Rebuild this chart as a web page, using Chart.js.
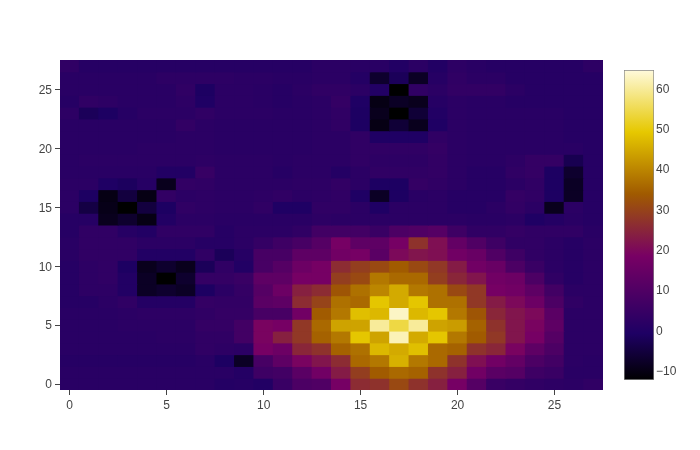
<!DOCTYPE html>
<html>
<head>
<meta charset="utf-8">
<title>Heatmap</title>
<script src="https://cdn.jsdelivr.net/npm/chart.js@4"></script>
<style>
    body { margin: 0; background: #fff; }
    #wrap { position: relative; width: 700px; height: 450px; overflow: hidden; }
    canvas { position: absolute; }
</style>
</head>
<body>
<div id="wrap">
    <canvas id="heat" width="700" height="450" style="left:0;top:0"></canvas>
    <canvas id="bar" width="80" height="330" style="left:620px;top:60px"></canvas>
</div>
<script>
// z values, one list per row, row 0 is the bottom one
const row0  = [1.5,1.5,1.5,1.5,1.5,1.5,1.5,1.5,0.5,1,0,5,9,10,18,26,27,31,27,24,18,11,5,4,3,2.5,2,3]
const row1  = [1.5,1.5,1.5,1.5,1.5,1.5,1.5,1.5,1.5,0.5,6,7,12,17,23,29,34,36,35,27,24,17,12,11,6,5,1.5,1.5]
const row2  = [1,1,1,1,1,1,1,1.5,-1,-8,8,13,19,22,26,36,38,46,38,36,27,21,17,14,9,7,2,1.5]
const row3  = [1.5,1.5,1.5,1.5,1.5,1.5,1.5,3,2.5,2,18,16,25,27,35,37,47,45,48,36,35,27,25,19,13,9,2,2]
const row4  = [1.5,1.5,1.5,1.5,1.5,2,2,3,3,7,19,24,28,35,38,49,44,62,45,49,38,34,28,22,18,11,2,2]
const row5  = [1.5,1.5,1.5,2,2,2,2,4,4,7,19,18,28,36,44,44,60,54,60,44,43,35,27,22,19,13,2,2]
const row6  = [1.5,1.5,1.5,2,2.5,2.5,2.5,3,4,4,8,8,17,34,38,48,47,63,47,49,38,33,25,22,20,12,2,2]
const row7  = [1,1,2,3,0.5,0.5,0.5,4,3.5,3.5,12,13,26,30,37,36,49,45,49,37,37,28,23,20,16,9,3,2]
const row8  = [1,2.5,2.5,0,-8,-7,-8,-1,2,4,11,16,24,26,33,37,40,45,38,37,31,28,18,17,13,7,2,2]
const row9  = [1,2.5,3,0,-8,-13,-7,4,4,5,13,13,18,18,29,31,38,36,36,29,25,22,17,16,9,3,1,2]
const row10 = [1,2.5,3,-1,-9,-7,-9,-2,3,0,8,11,16,18,26,29,31,34,31,28,23,17,15,9,5,2,1,2]
const row11 = [1.5,3,3,3,0,0,0,3,-2,1,8,8,13,13,17,18,12,20,22,21,17,15,10,6,3,2,1,2]
const row12 = [1.5,3,3,3,2,2,2,1,1,2,4,6,8,11,18,13,13,18,27,21,14,10,6,3,3,2,1,2]
const row13 = [1,3,3,1,0,3,3,3,1,2,2,2,3,7,7,7,5,9,10,11,6,3,3,4,3,3,3,1.5]
const row14 = [1,1,-9,-7,-10,0,2,2,1.5,1.5,1.5,1.5,1.5,2.5,2,2,2,2,2,2,2,1.5,1.5,2,-0.5,0.5,1.5,1]
const row15 = [2,-4.5,-9.5,-13,-5,-1,3,2.5,2,2,3,-0.5,-0.5,3,3,2,-0.5,2,2,2,1,1,2,3.5,2,-9,2,1]
const row16 = [2,-1,-10,-5,-10,3.5,2,2.5,2,2,2.5,3,2,2.5,3,-0.5,-8,-1,1.5,2,1,1,1,4,3,-1,-8,1]
const row17 = [2,2,-0.5,-1.5,1,-9,3.5,3,2,2,2,2,2.5,2.5,3.5,2,-1,-1,4,3,2,1,1,2,3,-1,-8,1]
const row18 = [1.5,1.5,1.5,1.5,1.5,0,0,4.5,2,2,2,1,2,2,0.5,2,3,3,3,3.5,2,1,1,3,4,-1,-7,1]
const row19 = [1.5,2,2,2,2,2,2,2.5,2,2,2,1.5,2,2,2,3,2.5,2.5,2.5,3.5,2,1.5,1.5,2.5,4,4,-3,1]
const row20 = [1.5,1.5,1.5,1.5,2,2,2,2,1.5,1.5,1.5,1.5,1.5,2,2,3,3,3,3,4,2,1.5,1.5,1.5,1.5,1.5,1.5,1]
const row21 = [1.5,1.5,1.5,1.5,1.5,1.5,2,2,1.5,1.5,1.5,1.5,1.5,2,2,3,-0.5,-0.5,-0.5,3,2,1.5,1.5,1.5,1.5,1.5,1,1]
const row22 = [1.5,1.5,1.5,1.5,1.5,1.5,3.5,2,1.5,1.5,1.5,1.5,1.5,2,3,-1,-10,-6,-9,-0.5,2,1.5,1.5,1.5,1.5,1.5,1,1]
const row23 = [2.5,-2,-1,1,2,2,2,3,2,2,2,1.5,1.5,2,3,-1,-9,-13,-6,0,2,1.5,1.5,1.5,1.5,1.5,1,1]
const row24 = [1,3,2.5,1.5,1.5,1.5,2.5,-0.5,2,2,1.5,1,1.5,2,4,-0.5,-10,-8,-9,1,2,1.5,1.5,1,1,1,1,1]
const row25 = [1.5,1.5,1.5,1.5,1.5,1.5,3,-1,2,2,1.5,1,2,3,3,2,0,-13,3,2,3.5,3.5,3.5,2,1,1,1,1]
const row26 = [1.5,1.5,1.5,1.5,1.5,2.5,2.5,2.5,2.5,2,2,1.5,1.5,2,2,0.5,-7,-2,-8,1,3,2,2,1,1,1,1,1]
const row27 = [3,1,1,1,1,1,1,1,1,1,1,1,1,2,2,1.5,1.5,0,2,0,2.5,1.5,1,1,1,1,1,2.5]
const rows = [row0,row1,row2,row3,row4,row5,row6,row7,row8,row9,row10,row11,row12,row13,
              row14,row15,row16,row17,row18,row19,row20,row21,row22,row23,row24,row25,row26,row27]

// color range and plotly's Electric scale
const zMin = -12.3
const zMax = 64.6
const stopPos = [0, 0.15, 0.4, 0.6, 0.8, 1]
const stopRGB = [[0,0,0],[30,0,100],[120,0,100],[160,90,0],[230,200,0],[255,250,220]]

function colorOf(z) {
    let t = Math.min(1, Math.max(0, (z - zMin) / (zMax - zMin)))
    let i = 0
    while (i < stopPos.length - 2 && t > stopPos[i+1]) i++
    let f = (t - stopPos[i]) / (stopPos[i+1] - stopPos[i])
    let c = stopRGB[i].map((v, k) => Math.round(v + (stopRGB[i+1][k] - v) * f))
    return `rgb(${c[0]},${c[1]},${c[2]})`
}

const font = { family: '"Liberation Sans", Arial, sans-serif', size: 12 }

// each cell is a floating bar, one unit wide and one unit high
let cells = []
let cellColors = []
rows.forEach((row, y) => row.forEach((z, x) => {
    cells.push({ x: x, y: [y - 0.5, y + 0.5] })
    cellColors.push(colorOf(z))
}))

const axisCommon = {
    type: 'linear',
    min: -0.5,
    max: 27.5,
    offset: false,
    grid: { offset: false, drawOnChartArea: false, tickLength: 5, tickColor: '#444', tickWidth: 1 },
    border: { display: false },
    ticks: { stepSize: 5, includeBounds: false, color: '#444', font: font, padding: 3, maxRotation: 0 }
}

new Chart(document.getElementById('heat'), {
    type: 'bar',
    data: {
        datasets: [{
            data: cells,
            backgroundColor: cellColors,
            borderWidth: 0,
            barPercentage: 1,
            categoryPercentage: 1,
            inflateAmount: 0.5
        }]
    },
    options: {
        responsive: false,
        animation: false,
        events: [],
        layout: { padding: { top: 60, right: 97, left: 0, bottom: 0 } },
        plugins: { legend: { display: false }, tooltip: { enabled: false } },
        scales: {
            x: { ...axisCommon, afterFit: (s) => { s.height = 60 } },
            y: {
                ...axisCommon,
                ticks: { ...axisCommon.ticks, labelOffset: 1 },
                afterFit: (s) => { s.width = 60 }
            }
        }
    }
})

// color bar: one floating bar filled with the same scale
new Chart(document.getElementById('bar'), {
    type: 'bar',
    data: {
        labels: [''],
        datasets: [{
            data: [[zMin, zMax]],
            backgroundColor: (ctx) => {
                let area = ctx.chart.chartArea
                if (!area) return '#000'
                let g = ctx.chart.ctx.createLinearGradient(0, area.bottom, 0, area.top)
                stopPos.forEach((p, i) => g.addColorStop(p, `rgb(${stopRGB[i].join(',')})`))
                return g
            },
            borderColor: '#888',
            borderWidth: 1,
            borderSkipped: false,
            barPercentage: 1,
            categoryPercentage: 1
        }]
    },
    options: {
        responsive: false,
        animation: false,
        events: [],
        layout: { padding: { top: 10, bottom: 10, left: 4, right: 0 } },
        plugins: { legend: { display: false }, tooltip: { enabled: false } },
        scales: {
            x: { display: false },
            y: {
                position: 'right',
                min: zMin,
                max: zMax,
                grid: { display: false, drawTicks: false },
                border: { display: false },
                afterFit: (s) => { s.width = 46 },
                ticks: {
                    stepSize: 10,
                    includeBounds: false,
                    color: '#444',
                    font: font,
                    padding: 2,
                    labelOffset: 1,
                    callback: (v) => String(v).replace('-', '\u2212')
                }
            }
        }
    }
})
</script>
</body>
</html>
